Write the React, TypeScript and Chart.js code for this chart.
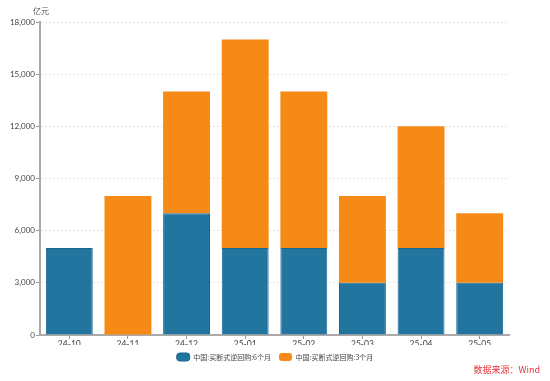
import React, { useEffect, useRef } from "react";
import { Chart, registerables } from "chart.js";

Chart.register(...registerables);

const categories = ["24-10", "24-11", "24-12", "25-01", "25-02", "25-03", "25-04", "25-05"];
const series6m = [5000, 0, 7000, 5000, 5000, 3000, 5000, 3000];
const series3m = [0, 8000, 7000, 12000, 9000, 5000, 7000, 4000];
const seriesNames = ["中国:买断式逆回购:6个月", "中国:买断式逆回购:3个月"];
const yTicks = [0, 3000, 6000, 9000, 12000, 15000, 18000];
const unitLabel = "亿元";
const sourceLabel = "数据来源：Wind";

const FONT = "Lato, 'Noto Sans CJK SC', sans-serif";
const CJK = "'Noto Sans CJK SC', sans-serif";

export default function App() {
  const ref = useRef<HTMLCanvasElement | null>(null);
  useEffect(() => {
    if (!ref.current) return;
    const extraText = {
      id: "extraText",
      afterDraw(chart: any) {
        const ctx = chart.ctx;
        ctx.save();
        ctx.font = `8px ${CJK}`;
        ctx.fillStyle = "#555";
        ctx.textAlign = "left";
        ctx.textBaseline = "middle";
        ctx.fillText(unitLabel, 33, 11);
        ctx.font = `9px ${CJK}`;
        ctx.fillStyle = "#e8343a";
        ctx.textAlign = "right";
        ctx.fillText(sourceLabel, 540, 370);
        ctx.restore();
      },
    };
    const chart = new Chart(ref.current, {
      type: "bar",
      data: {
        labels: categories,
        datasets: [
          {
            label: seriesNames[0],
            data: series6m,
            backgroundColor: "#21759f",
            borderColor: "#1b6690",
            borderWidth: 1,
            categoryPercentage: 0.8,
            barPercentage: 1,
          },
          {
            label: seriesNames[1],
            data: series3m,
            backgroundColor: "#f58a17",
            borderColor: "#f58a17",
            borderWidth: 0,
            categoryPercentage: 0.8,
            barPercentage: 1,
          },
        ],
      },
      plugins: [extraText],
      options: {
        animation: false,
        responsive: false,
        layout: { padding: { left: 0, right: 0, top: 22, bottom: 10 } },
        plugins: {
          tooltip: { enabled: false },
          legend: {
            position: "bottom",
            labels: {
              font: { family: CJK, size: 7 },
              color: "#444",
              boxWidth: 13,
              boxHeight: 8,
              useBorderRadius: true,
              borderRadius: 3,
              padding: 8,
            },
          },
        },
        scales: {
          x: {
            stacked: true,
            grid: { drawOnChartArea: false, offset: false, tickLength: 4, color: "#999", tickColor: "#999" },
            border: { color: "#aaa", width: 2 },
            ticks: { font: { family: FONT, size: 8.5 }, color: "#444", padding: 0 },
            afterFit(scale: any) {
              scale.height = 10;
            },
          },
          y: {
            stacked: true,
            min: 0,
            max: 18000,
            afterBuildTicks(scale: any) {
              scale.ticks = yTicks.map((v) => ({ value: v }));
            },
            grid: {
              color: "#e3e3e3",
              tickLength: 4,
              tickColor: "#999",
              tickBorderDash: [],
            } as any,
            border: { color: "#aaa", width: 2, dash: [2, 2] },
            ticks: {
              font: { family: FONT, size: 8 },
              color: "#444",
              padding: 1,
              callback: (v: any) => Number(v).toLocaleString("en-US"),
            },
            afterFit(scale: any) {
              scale.width = 40;
            },
          },
          yRight: {
            position: "right",
            display: true,
            grid: { display: false },
            border: { display: false },
            ticks: { display: false },
            afterFit(scale: any) {
              scale.width = 41;
            },
          },
        },
      } as any,
    });
    return () => chart.destroy();
  }, []);
  return (
    <div style={{ position: "fixed", left: 0, top: 0, width: 550, height: 381, background: "#fff" }}>
      <canvas ref={ref} width={550} height={381} />
    </div>
  );
}
